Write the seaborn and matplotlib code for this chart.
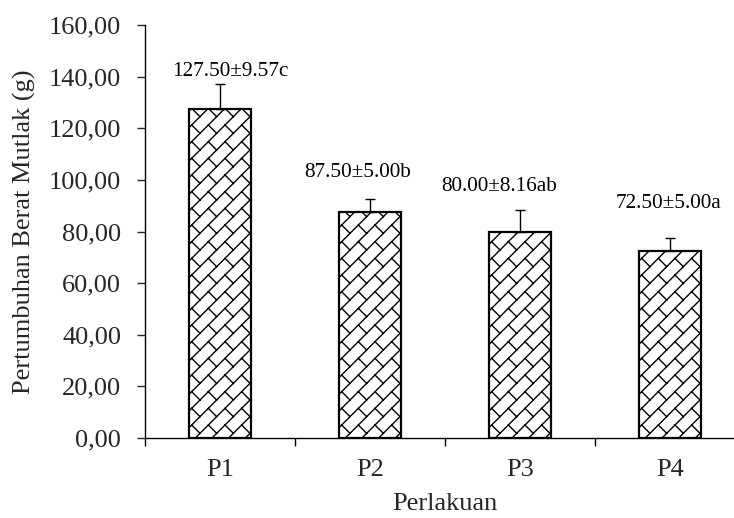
import matplotlib
matplotlib.use("Agg")
import numpy as np
import matplotlib.pyplot as plt
import matplotlib.hatch as mhatch
from matplotlib.path import Path
import seaborn as sns
import pandas as pd
from matplotlib.ticker import FuncFormatter

# Treatment groups and absolute weight gain (mean ± SD)
perlakuan = ["P1", "P2", "P3", "P4"]
rerata = [127.50, 87.50, 80.00, 72.50]
sd = [9.57, 5.00, 8.16, 5.00]
notasi = ["c", "b", "ab", "a"]
# placement of each value label: height (data units) and sideways shift (category units)
label_y = [141.8, 102.8, 97.3, 90.8]
label_dx = [0.07, -0.08, -0.14, -0.01]


class DiagonalBrick(mhatch.HatchPatternBase):
    """Short '\\' strokes between '/' hatch lines, giving a diagonal brick fill."""

    def __init__(self, hatch, density):
        self.n = int(hatch.count("*") * density)
        self.num_vertices = 2 * (self.n + 2) ** 2 if self.n else 0

    def set_vertices_and_codes(self, vertices, codes):
        n = self.n
        idx = np.arange(-1, n + 1)
        ii, jj = np.meshgrid(idx, idx)
        x0 = ii.ravel() / n
        y0 = jj.ravel() / n
        vertices[0::2, 0] = x0
        vertices[0::2, 1] = y0
        vertices[1::2, 0] = x0 - 0.5 / n
        vertices[1::2, 1] = y0 + 0.5 / n
        codes[0::2] = Path.MOVETO
        codes[1::2] = Path.LINETO


mhatch._hatch_types = [t for t in mhatch._hatch_types if t is not mhatch.Stars] + [DiagonalBrick]

sns.set_theme(style="white")
plt.rcParams["font.family"] = ["Liberation Serif", "DejaVu Serif"]
plt.rcParams["hatch.linewidth"] = 1.0
plt.rcParams["hatch.color"] = "black"

df = pd.DataFrame({"Perlakuan": perlakuan, "Berat": rerata})

fig = plt.figure(figsize=(7.34, 5.18), dpi=100)
ax = fig.add_axes([0.1975, 0.1544, 0.8174, 0.7973])

sns.barplot(data=df, x="Perlakuan", y="Berat", ax=ax, color="white",
            edgecolor="black", linewidth=1.6, width=0.41, errorbar=None)
for p in ax.patches:
    p.set_hatch("//*")

xs = list(range(len(perlakuan)))
ax.errorbar(xs, rerata, yerr=[[0] * len(sd), sd], fmt="none",
            ecolor="black", elinewidth=1.0, capsize=3.6, capthick=1.0)

for i, (m, s, n, ly, dx) in enumerate(zip(rerata, sd, notasi, label_y, label_dx)):
    ax.text(i + dx, ly, f"{m:.2f}±{s:.2f}{n}", ha="center", va="center",
            fontsize=15.3, color="black")

ax.set_ylim(0, 160)
ax.set_yticks(range(0, 161, 20))
ax.yaxis.set_major_formatter(FuncFormatter(lambda v, _: f"{v:.2f}".replace(".", ",")))
ax.set_xlim(-0.5, len(perlakuan) - 0.5)

# category boundary ticks on the x axis
ax.set_xticks([i - 0.5 for i in range(len(perlakuan) + 1)], minor=True)
ax.tick_params(axis="x", which="major", length=0, labelsize=19, pad=15)
ax.tick_params(axis="x", which="minor", length=6, width=1, direction="out",
               bottom=True, colors="black")
ax.tick_params(axis="y", length=6, width=1, direction="out", left=True,
               labelsize=19, pad=11)

for side in ["top", "right"]:
    ax.spines[side].set_visible(False)
for side in ["left", "bottom"]:
    ax.spines[side].set_color("black")
    ax.spines[side].set_linewidth(1.0)

ax.set_xlabel("Perlakuan", fontsize=19, labelpad=9)
ax.set_ylabel("Pertumbuhan Berat Mutlak (g)", fontsize=19, labelpad=9)

fig.savefig("out.png", dpi=100)
